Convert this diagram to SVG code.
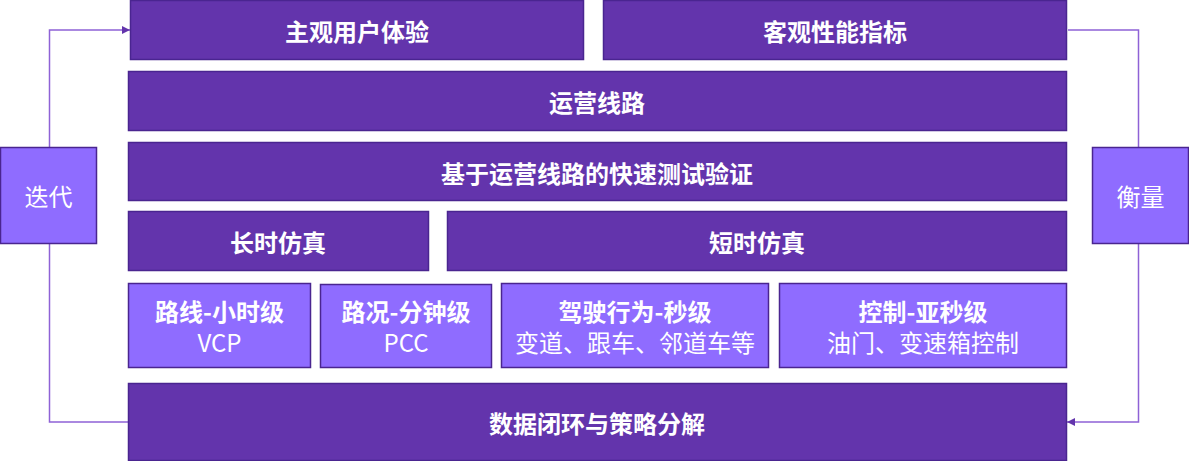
<svg xmlns="http://www.w3.org/2000/svg" width="1189" height="461" viewBox="0 0 1189 461">
<defs>
<style>
.d{fill:#6334AC;stroke:#4A2590;stroke-width:1.5}
.l{fill:#8F6CFF;stroke:#4A2590;stroke-width:1.5}
.t{font-family:"Noto Sans CJK SC","Microsoft YaHei",sans-serif;fill:#fff;text-anchor:middle;dominant-baseline:central}
.b{font-weight:bold;font-size:24px}
.r{font-size:24px}
.c{fill:none;stroke:#8E62D6;stroke-width:1.5}
</style>
<marker id="a" viewBox="0 0 10 10" refX="10" refY="5" markerWidth="8" markerHeight="8" markerUnits="userSpaceOnUse" orient="auto"><path d="M0,0L10,5L0,10z" fill="#6334AC"/></marker>
</defs>
<g id="connectors">
<path class="c" d="M128,422H49.5V30H130" marker-end="url(#a)"/>
<path class="c" d="M1068,30H1138.5V422H1067" marker-end="url(#a)"/>
</g>
<g id="n1"><rect class="d" x="130.5" y="0.5" width="453" height="59"/><text class="t b" x="357" y="30">主观用户体验</text></g>
<g id="n2"><rect class="d" x="603.5" y="0.5" width="463" height="59"/><text class="t b" x="835" y="30">客观性能指标</text></g>
<g id="n3"><rect class="d" x="128.5" y="71.5" width="938" height="59"/><text class="t b" x="597" y="101">运营线路</text></g>
<g id="n4"><rect class="d" x="128.5" y="142.5" width="938" height="58"/><text class="t b" x="597" y="172">基于运营线路的快速测试验证</text></g>
<g id="n5"><rect class="d" x="128.5" y="211.5" width="300" height="59"/><text class="t b" x="278" y="241">长时仿真</text></g>
<g id="n6"><rect class="d" x="447.5" y="211.5" width="619" height="59"/><text class="t b" x="757" y="241">短时仿真</text></g>
<g id="n7"><rect class="l" x="128.5" y="283.5" width="182" height="84"/><text class="t b" x="219.5" y="310">路线-小时级</text><text class="t r" x="219.5" y="341">VCP</text></g>
<g id="n8"><rect class="l" x="320.5" y="284.5" width="171" height="83"/><text class="t b" x="406" y="310">路况-分钟级</text><text class="t r" x="406" y="341">PCC</text></g>
<g id="n9"><rect class="l" x="501.5" y="283.5" width="267" height="84"/><text class="t b" x="635" y="310">驾驶行为-秒级</text><text class="t r" x="635" y="341">变道、跟车、邻道车等</text></g>
<g id="n10"><rect class="l" x="779.5" y="283.5" width="287" height="84"/><text class="t b" x="923" y="310">控制-亚秒级</text><text class="t r" x="923" y="341">油门、变速箱控制</text></g>
<g id="n11"><rect class="d" x="128.5" y="383.5" width="938" height="77"/><text class="t b" x="597" y="422">数据闭环与策略分解</text></g>
<g id="n12"><rect class="l" x="0.5" y="147.5" width="96" height="96"/><text class="t r" x="48.5" y="195">迭代</text></g>
<g id="n13"><rect class="l" x="1092.5" y="147.5" width="96" height="96"/><text class="t r" x="1140.5" y="195">衡量</text></g>
</svg>
